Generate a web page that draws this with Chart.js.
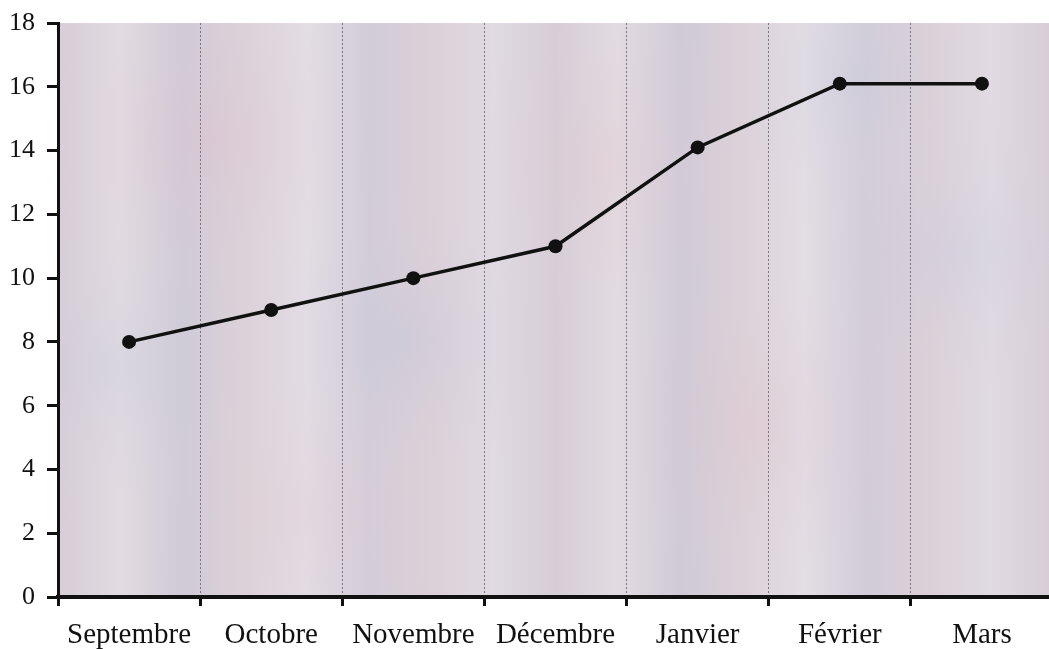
<!DOCTYPE html>
<html>
<head>
<meta charset="utf-8">
<script src="https://cdn.jsdelivr.net/npm/chart.js@4/dist/chart.umd.min.js"></script>
<style>
  body { margin: 0; background: #fff; overflow: hidden; }
  #wrap { width: 1060px; height: 649px; }
</style>
</head>
<body>
<div id="wrap"><canvas id="myChart"></canvas></div>
<script>
// Données du graphique
var mois = ["Septembre", "Octobre", "Novembre", "Décembre", "Janvier", "Février", "Mars"];
var valeurs = [8, 9, 10, 11, 14.1, 16.1, 16.1];
var ticksY = [0, 2, 4, 6, 8, 10, 12, 14, 16, 18];

// Fond texturé de la zone du graphique
var fondTexture = {
  id: 'fondTexture',
  beforeDraw: function (chart) {
    var ctx = chart.ctx, a = chart.chartArea;
    var w = a.right - a.left, h = a.bottom - a.top;
    ctx.save();
    ctx.beginPath();
    ctx.rect(a.left, a.top, w, h);
    ctx.clip();
    var g = ctx.createLinearGradient(a.left, 0, a.right, 0);
    var tons = ['#d6cdd6', '#e2dbe1', '#cfcad6', '#dcd1d8', '#e3dde4', '#d2ccd8', '#dbd0d7', '#e0dae2'];
    for (var i = 0; i <= 16; i++) {
      g.addColorStop(i / 16, tons[i % tons.length]);
    }
    ctx.fillStyle = g;
    ctx.fillRect(a.left, a.top, w, h);
    // taches roses et bleutées
    var taches = [
      [0.15, 0.2, 'rgba(225,190,205,0.35)'], [0.35, 0.55, 'rgba(190,195,220,0.3)'],
      [0.55, 0.25, 'rgba(230,195,205,0.3)'], [0.7, 0.7, 'rgba(225,190,200,0.3)'],
      [0.9, 0.4, 'rgba(195,200,225,0.3)'], [0.25, 0.85, 'rgba(228,200,210,0.3)'],
      [0.05, 0.6, 'rgba(195,200,222,0.3)'], [0.8, 0.1, 'rgba(200,205,225,0.3)']
    ];
    taches.forEach(function (t) {
      var x = a.left + t[0] * w, y = a.top + t[1] * h;
      var r = ctx.createRadialGradient(x, y, 0, x, y, 160);
      r.addColorStop(0, t[2]);
      r.addColorStop(1, 'rgba(220,215,220,0)');
      ctx.fillStyle = r;
      ctx.fillRect(a.left, a.top, w, h);
    });
    ctx.restore();
  }
};

var ctx = document.getElementById('myChart').getContext('2d');
new Chart(ctx, {
  type: 'line',
  data: {
    labels: mois,
    datasets: [{
      data: valeurs,
      borderColor: '#111',
      backgroundColor: '#111',
      borderWidth: 3.5,
      pointRadius: 7,
      pointHoverRadius: 7,
      pointBackgroundColor: '#111',
      pointBorderWidth: 0,
      tension: 0
    }]
  },
  options: {
    responsive: true,
    maintainAspectRatio: false,
    animation: false,
    layout: { padding: { top: 8, right: 4, left: 0, bottom: 0 } },
    plugins: { legend: { display: false }, tooltip: { enabled: false } },
    scales: {
      x: {
        offset: true,
        grid: {
          offset: true,
          drawOnChartArea: true,
          color: '#7a7280',
          lineWidth: 1,
          drawTicks: true,
          tickLength: 9,
          tickColor: '#111',
          tickWidth: 3,
          tickBorderDash: []
        },
        border: { display: true, color: '#111', width: 4, dash: [2, 2] },
        ticks: {
          color: '#111',
          padding: 12,
          maxRotation: 0,
          autoSkip: false,
          font: { family: '"Liberation Serif", "Times New Roman", serif', size: 29 }
        },
        afterFit: function (scale) { scale.height = 52; }
      },
      y: {
        min: 0,
        max: 18,
        afterBuildTicks: function (scale) {
          scale.ticks = ticksY.map(function (v) { return { value: v }; });
        },
        grid: {
          drawOnChartArea: false,
          drawTicks: true,
          tickLength: 11,
          tickColor: '#111',
          tickWidth: 3
        },
        border: { display: true, color: '#111', width: 3 },
        ticks: {
          color: '#111',
          padding: 12,
          font: { family: '"Liberation Serif", "Times New Roman", serif', size: 26, lineHeight: 0.85 }
        },
        afterFit: function (scale) { scale.width = 58; }
      }
    }
  },
  plugins: [fondTexture]
});
</script>
</body>
</html>
